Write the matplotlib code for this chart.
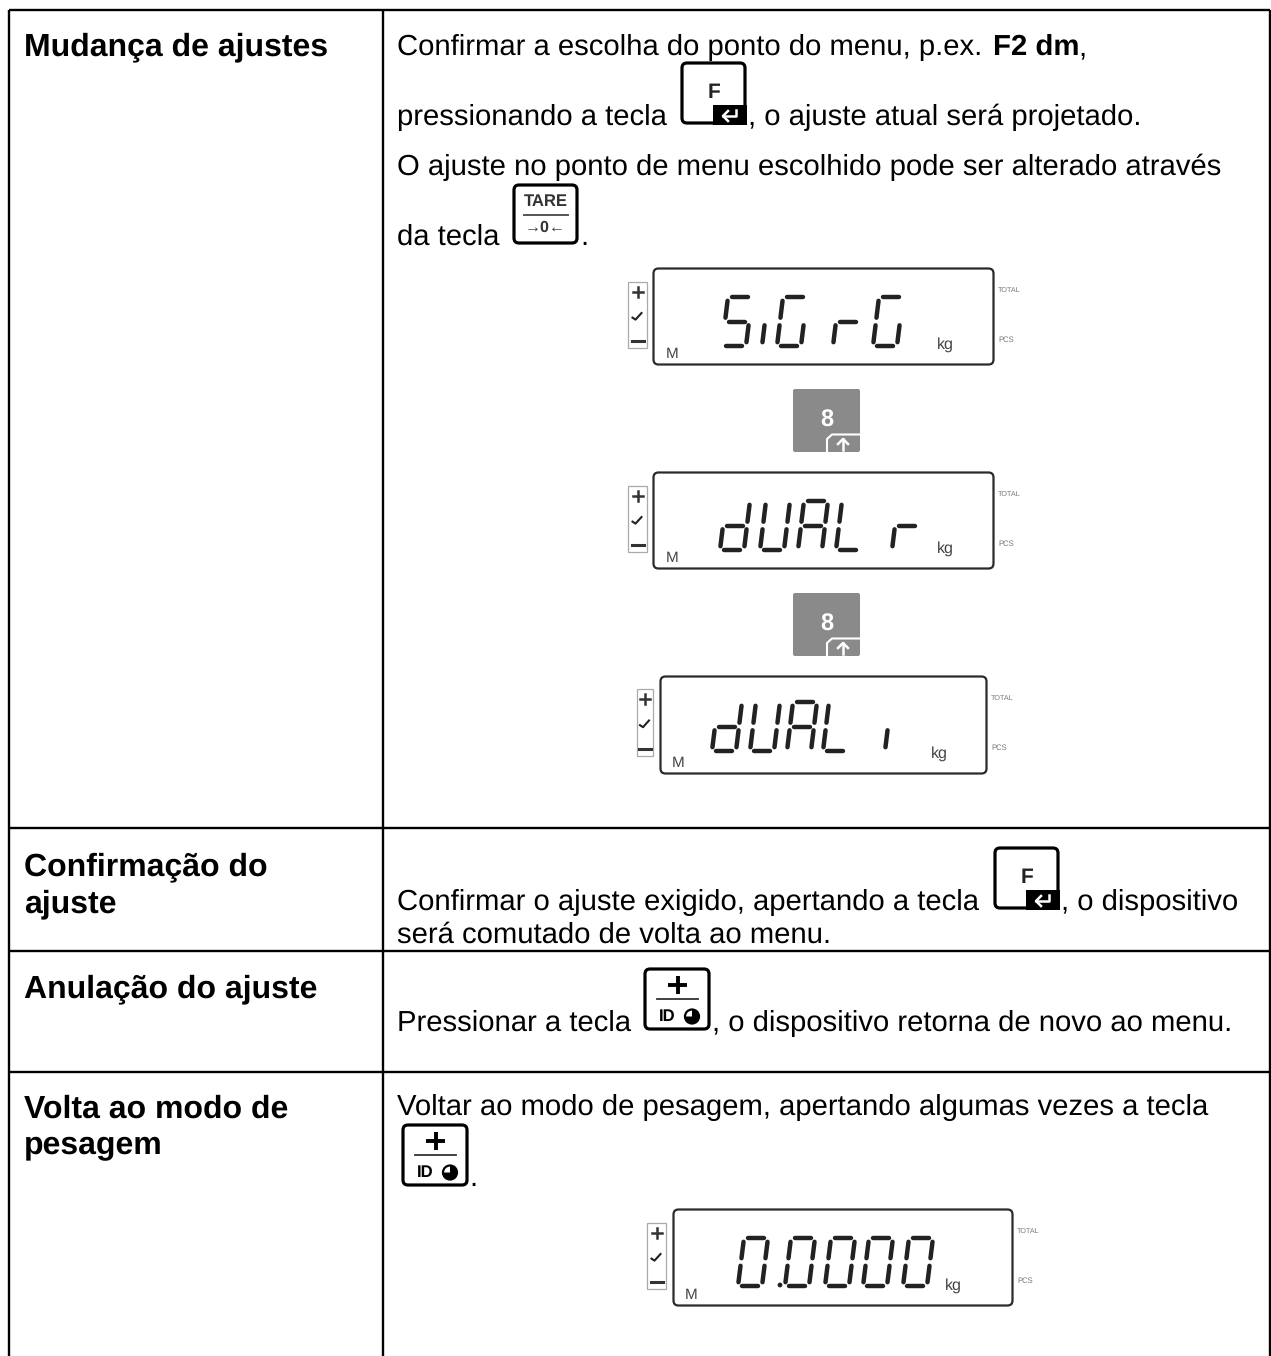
import matplotlib
matplotlib.use("Agg")
import matplotlib.pyplot as plt
from matplotlib.patches import FancyBboxPatch, Rectangle, Circle, Wedge

plt.rcParams['font.family'] = ['Liberation Sans', 'DejaVu Sans']
plt.rcParams['text.hinting'] = 'no_hinting'

# Textos de la tabla
titulos = ["Mudança de ajustes", "Confirmação do", "ajuste", "Anulação do ajuste",
           "Volta ao modo de", "pesagem"]
textos = ["Confirmar a escolha do ponto do menu, p.ex.",
          "pressionando a tecla",
          ", o ajuste atual será projetado.",
          "O ajuste no ponto de menu escolhido pode ser alterado através",
          "da tecla",
          ".",
          "Confirmar o ajuste exigido, apertando a tecla",
          ", o dispositivo",
          "será comutado de volta ao menu.",
          "Pressionar a tecla",
          ", o dispositivo retorna de novo ao menu.",
          "Voltar ao modo de pesagem, apertando algumas vezes a tecla",
          "."]
pantallas = ["SiGrG", "dUAL r", "dUAL i", "0.0000"]

# Segmentos encendidos de cada caracter
segmentos = {'S': 'afgcd', 'i': 'c', 'G': 'afedc', 'r': 'eg', 'd': 'bcdeg',
             'U': 'bcdef', 'A': 'abcefg', 'L': 'def', '0': 'abcdef', ' ': ''}

fig = plt.figure(figsize=(12.71, 13.56), dpi=100)
ax = fig.add_axes([0, 0, 1, 1])
ax.set_xlim(0, 1271)
ax.set_ylim(1356, 0)
ax.axis('off')

# Lineas de la tabla
lw_tabla = 1.7
for y in [10, 827.5, 950.5, 1072]:
    ax.plot([9, 1270], [y, y], c='black', lw=lw_tabla, solid_capstyle='butt')
for x in [9, 383, 1270]:
    ax.plot([x, x], [10, 1356], c='black', lw=lw_tabla, solid_capstyle='butt')

FS = 21.08
FS_B = 23


def txt(x, y, s, size=FS, **kw):
    ax.text(x, y, s, fontsize=size, va='baseline', ha='left', color='black', **kw)


for s, y in zip(titulos, [55.5, 875.5, 912.5, 997.5, 1117.5, 1154.5]):
    txt(24, y, s, size=FS_B, fontweight='bold')

txt(397, 55, textos[0])
txt(993, 55, "F2 dm", size=21.2, fontweight='bold')
txt(1078, 55, ",")
txt(397, 125, textos[1])
txt(748, 125, textos[2])
txt(397, 175, textos[3])
txt(397, 245, textos[4])
txt(580, 245, textos[5])
txt(397, 910, textos[6])
txt(1061, 910, textos[7])
txt(397, 943, textos[8])
txt(397, 1031, textos[9])
txt(712, 1031, textos[10])
txt(397, 1115, textos[11])
txt(469, 1186, textos[12])


def caja(x0, y0, x1, y1):
    ax.add_patch(FancyBboxPatch((x0 + 2, y0 + 2), x1 - x0 - 4, y1 - y0 - 4,
                                boxstyle="round,pad=0,rounding_size=5", fc='white',
                                ec='black', lw=2.3, mutation_aspect=1, zorder=3))


def tecla_f(x0, y0):
    caja(x0, y0, x0 + 67, y0 + 64)
    ax.add_patch(Rectangle((x0 + 33, y0 + 44), 34, 20, fc='black', ec='none', zorder=4))
    ax.text(x0 + 34, y0 + 32, "F", fontsize=15, fontweight='bold', ha='center',
            va='center', color='#222222', zorder=5)
    # flecha de enter
    ax.plot([x0 + 56, x0 + 56, x0 + 43], [y0 + 49, y0 + 55, y0 + 55], c='white',
            lw=1.8, zorder=5)
    ax.plot([x0 + 48, x0 + 43, x0 + 48], [y0 + 50, y0 + 55, y0 + 60], c='white',
            lw=1.8, zorder=5)


def tecla_id(x0, y0):
    caja(x0, y0, x0 + 68, y0 + 64)
    ax.plot([x0 + 25, x0 + 44], [y0 + 18, y0 + 18], c='black', lw=2.8, zorder=5,
            solid_capstyle='butt')
    ax.plot([x0 + 34.5, x0 + 34.5], [y0 + 9, y0 + 27], c='black', lw=2.8, zorder=5,
            solid_capstyle='butt')
    ax.plot([x0 + 14, x0 + 55], [y0 + 32, y0 + 32], c='#333333', lw=1.3, zorder=5)
    ax.text(x0 + 24, y0 + 50, "ID", fontsize=12, fontweight='bold', ha='center',
            va='center', zorder=5)
    ax.add_patch(Circle((x0 + 49, y0 + 49.5), 7, fc='white', ec='black', lw=1.6, zorder=5))
    ax.add_patch(Wedge((x0 + 49, y0 + 49.5), 7, 270, 90, fc='black', ec='none', zorder=6))
    ax.add_patch(Wedge((x0 + 49, y0 + 49.5), 7, 0, 180, fc='black', ec='none', zorder=6))


tecla_f(680, 61)
tecla_f(993, 846)
tecla_id(643, 967)
tecla_id(401, 1123)

# Tecla TARE
caja(512, 183, 579, 245)
ax.text(545.5, 202, "TARE", fontsize=12, fontweight='bold', ha='center', va='center',
        color='#333333', zorder=5)
ax.plot([524, 568], [215, 215], c='#555555', lw=1.4, zorder=5)
ax.text(545.5, 228, "→0←", fontsize=11.5, fontweight='bold', ha='center', va='center',
        color='#333333', zorder=5)


def tecla_8(y0):
    x0 = 792
    ax.add_patch(FancyBboxPatch((x0 + 1, y0 + 1), 67, 63, boxstyle="round,pad=0,rounding_size=2",
                                fc='#8a8a8a', ec='none', zorder=3))
    ax.text(x0 + 35, y0 + 33, "8", fontsize=17, fontweight='bold', ha='center', va='center',
            color='white', zorder=5)
    ax.plot([x0 + 35, x0 + 35, x0 + 40, x0 + 69], [y0 + 65, y0 + 51, y0 + 46.5, y0 + 46.5],
            c='white', lw=1.5, zorder=5)
    ax.plot([x0 + 51, x0 + 51], [y0 + 62, y0 + 51], c='white', lw=1.8, zorder=5)
    ax.plot([x0 + 46, x0 + 51, x0 + 56], [y0 + 56, y0 + 51, y0 + 56], c='white', lw=1.8, zorder=5)


tecla_8(388)
tecla_8(592)


def digito(car, x0, w, y0, y1):
    """Dibuja un caracter de siete segmentos; y0 arriba, y1 abajo."""
    ym = (y0 + y1) / 2
    s = 6
    def pt(u, y):
        return x0 + u + s * (y1 - y) / (y1 - y0)
    g = 3.8
    trozos = {'a': (g, w - s - g, y0, y0), 'g': (g, w - s - g, ym, ym), 'd': (g, w - s - g, y1, y1),
              'f': (0, 0, y0 + g, ym - g), 'e': (0, 0, ym + g, y1 - g),
              'b': (w - s, w - s, y0 + g, ym - g), 'c': (w - s, w - s, ym + g, y1 - g)}
    for k in segmentos[car]:
        u0, u1, a, b = trozos[k]
        ax.plot([pt(u0, a), pt(u1, b)], [a, b], c='#222222', lw=3.2, solid_capstyle='round', zorder=4)


def pantalla(texto, px0, px1, py0, py1, lx0, lx1, ly0, ly1, mx, kx, lab, xs, dy0, dy1):
    ax.add_patch(FancyBboxPatch((px0 + 1.5, py0 + 1.5), px1 - px0 - 3, py1 - py0 - 3,
                                boxstyle="round,pad=0,rounding_size=5", fc='white',
                                ec='#2a2a2a', lw=1.6, zorder=2))
    # caja lateral + / check / -
    ax.add_patch(Rectangle((lx0, ly0), lx1 - lx0, ly1 - ly0, fc='white', ec='#aaaaaa', lw=0.9, zorder=2))
    cx = (lx0 + lx1) / 2
    h = ly1 - ly0
    ax.plot([cx - 5, cx + 5], [ly0 + 0.15 * h] * 2, c='#333333', lw=1.8, zorder=3)
    ax.plot([cx, cx], [ly0 + 0.15 * h - 5, ly0 + 0.15 * h + 5], c='#333333', lw=1.8, zorder=3)
    ax.plot([cx - 5, cx - 2, cx + 4], [ly0 + 0.54 * h, ly0 + 0.57 * h, ly0 + 0.47 * h],
            c='#222222', lw=1.5, zorder=3)
    ax.plot([cx - 6, cx + 6], [ly0 + 0.89 * h] * 2, c='#333333', lw=2.2, zorder=3)
    # letreros
    ax.text(mx, py1 - 12, "M", fontsize=11, color='#444444', ha='center', va='center', zorder=3)
    ax.text(kx, py1 - 21, "kg", fontsize=11.5, color='#444444', ha='center', va='center', zorder=3)
    ax.text(lab, py0 + 23, "TOTAL", fontsize=5.2, color='#777777', ha='left', va='center', zorder=3)
    ax.text(lab, py0 + 73, "PCS", fontsize=5.5, color='#777777', ha='left', va='center', zorder=3)
    i = 0
    for car in texto:
        if car == '.':
            ax.add_patch(Circle((xs[i] - 5, dy1 - 1), 2.4, fc='#222222', ec='none', zorder=4))
            continue
        if car == ' ':
            continue
        if car == 'i':
            digito(car, xs[i] - 23, 30, dy0, dy1)
        else:
            digito(car, xs[i], 30, dy0, dy1)
        i += 1


pantalla(pantallas[0], 652, 995, 267, 366, 628, 647, 282, 348, 672, 945, 998,
         [722, 761, 777, 833, 873], 297, 346)
pantalla(pantallas[1], 652, 995, 471, 570, 628, 647, 486, 552, 672, 945, 998,
         [720, 760, 798, 836, 892], 501, 550)
pantalla(pantallas[2], 659, 988, 675, 775, 637, 653, 689, 756, 678, 939, 991,
         [712, 750, 787, 823, 884], 702, 751)
pantalla(pantallas[3], 672, 1014, 1208, 1307, 647, 666, 1223, 1289, 691, 953, 1017,
         [738, 785, 825, 863, 903], 1238, 1286)

fig.savefig("out.png", dpi=100)
